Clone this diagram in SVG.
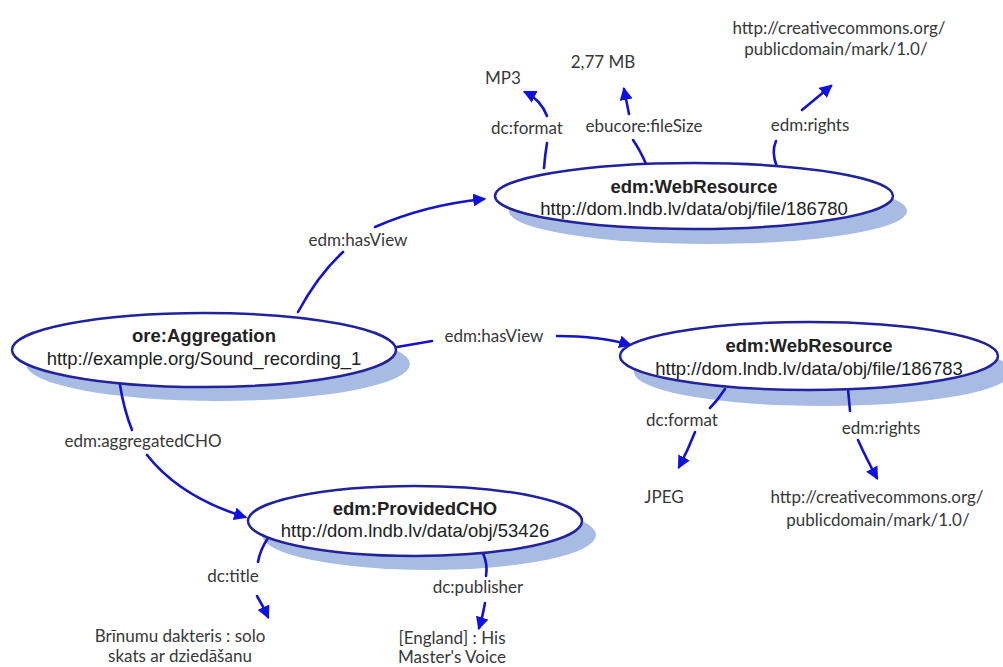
<svg xmlns="http://www.w3.org/2000/svg" width="1003" height="667" viewBox="0 0 1003 667">
  <style>
    .shadow { fill: #a7bbe3; }
    .node { fill: #ffffff; stroke: #22229a; stroke-width: 2.5; }
    .title { font-family: "Liberation Sans", Arial, sans-serif; font-size: 18.5px; font-weight: bold; fill: #222; text-anchor: middle; }
    .uri { font-family: "Liberation Sans", Arial, sans-serif; font-size: 18.5px; fill: #222; text-anchor: middle; }
    .edge { fill: none; stroke: #1414c8; stroke-width: 2.6; stroke-linecap: round; }
    .lbl { font-family: Lato, "Open Sans", sans-serif; font-size: 17px; fill: #383838; text-anchor: middle; }
  </style>
  <defs>
    <marker id="arrow" viewBox="0 0 12 12" refX="10" refY="6" markerWidth="13" markerHeight="13" markerUnits="userSpaceOnUse" orient="auto">
      <path d="M0,0 L12,6 L0,12 z" fill="#1010e0"/>
    </marker>
  </defs>
  <rect width="1003" height="667" fill="#ffffff"/>

  <!-- drop shadows -->
  <g id="shadows">
    <ellipse class="shadow" cx="218" cy="364" rx="192" ry="37"/>
    <ellipse class="shadow" cx="708" cy="211" rx="199" ry="33"/>
    <ellipse class="shadow" cx="823" cy="372" rx="189" ry="34"/>
    <ellipse class="shadow" cx="429" cy="535" rx="167" ry="35"/>
  </g>

  <!-- connectors -->
  <g id="connectors">
    <path class="edge" d="M298,312 Q318,275 343,252"/>
    <path class="edge" d="M375,227 Q425,205 484,199" marker-end="url(#arrow)"/>
    <text class="lbl" x="358" y="246">edm:hasView</text>

    <path class="edge" d="M397,347 L432,341"/>
    <path class="edge" d="M557,336 Q600,336 630,345" marker-end="url(#arrow)"/>
    <text class="lbl" x="494" y="342">edm:hasView</text>

    <path class="edge" d="M120,385 Q124,410 132,430"/>
    <path class="edge" d="M147,455 Q180,497 245,517" marker-end="url(#arrow)"/>
    <text class="lbl" x="143" y="447">edm:aggregatedCHO</text>

    <path class="edge" d="M544,168 Q545,155 547,143"/>
    <path class="edge" d="M547,116 Q541,100 525,92" marker-end="url(#arrow)"/>
    <text class="lbl" x="527" y="134">dc:format</text>
    <text class="lbl" x="503" y="84">MP3</text>

    <path class="edge" d="M646,164 Q640,150 633,140"/>
    <path class="edge" d="M629,114 L624,89" marker-end="url(#arrow)"/>
    <text class="lbl" x="644" y="132">ebucore:fileSize</text>
    <text class="lbl" x="603" y="68">2,77 MB</text>

    <path class="edge" d="M777,167 Q771,152 776,141"/>
    <path class="edge" d="M802,110 L831,86" marker-end="url(#arrow)"/>
    <text class="lbl" x="810" y="131">edm:rights</text>
    <text class="lbl" x="839" y="34">http://creativecommons.org/</text>
    <text class="lbl" x="836" y="55">publicdomain/mark/1.0/</text>

    <path class="edge" d="M725,389 Q718,400 710,408"/>
    <path class="edge" d="M695,432 Q688,450 679,467" marker-end="url(#arrow)"/>
    <text class="lbl" x="682" y="426">dc:format</text>
    <text class="lbl" x="664" y="503">JPEG</text>

    <path class="edge" d="M848,389 Q849,400 850,411"/>
    <path class="edge" d="M858,440 Q866,458 877,478" marker-end="url(#arrow)"/>
    <text class="lbl" x="881" y="434">edm:rights</text>
    <text class="lbl" x="877" y="503">http://creativecommons.org/</text>
    <text class="lbl" x="878" y="526">publicdomain/mark/1.0/</text>

    <path class="edge" d="M268,538 Q260,550 258,562"/>
    <path class="edge" d="M257,596 Q263,606 268,617" marker-end="url(#arrow)"/>
    <text class="lbl" x="233" y="582">dc:title</text>
    <text class="lbl" x="180" y="642">Brīnumu dakteris : solo</text>
    <text class="lbl" x="180" y="662">skats ar dziedāšanu</text>

    <path class="edge" d="M483,553 Q488,565 486,576"/>
    <path class="edge" d="M485,603 Q483,615 479,628" marker-end="url(#arrow)"/>
    <text class="lbl" x="478" y="593">dc:publisher</text>
    <text class="lbl" x="452" y="644">[England] : His</text>
    <text class="lbl" x="452" y="663">Master's Voice</text>
  </g>

  <!-- nodes -->
  <g id="aggregation">
    <ellipse class="node" cx="204" cy="350" rx="192" ry="37"/>
    <text class="title" x="204" y="342">ore:Aggregation</text>
    <text class="uri" x="204" y="365">http://example.org/Sound_recording_1</text>
  </g>
  <g id="webresource-186780">
    <ellipse class="node" cx="694" cy="196" rx="199" ry="33"/>
    <text class="title" x="694" y="193">edm:WebResource</text>
    <text class="uri" x="694" y="215">http://dom.lndb.lv/data/obj/file/186780</text>
  </g>
  <g id="webresource-186783">
    <ellipse class="node" cx="809" cy="356" rx="189" ry="34"/>
    <text class="title" x="809" y="352">edm:WebResource</text>
    <text class="uri" x="809" y="375">http://dom.lndb.lv/data/obj/file/186783</text>
  </g>
  <g id="providedcho">
    <ellipse class="node" cx="415" cy="521" rx="167" ry="35"/>
    <text class="title" x="415" y="515">edm:ProvidedCHO</text>
    <text class="uri" x="415" y="537">http://dom.lndb.lv/data/obj/53426</text>
  </g>
</svg>
